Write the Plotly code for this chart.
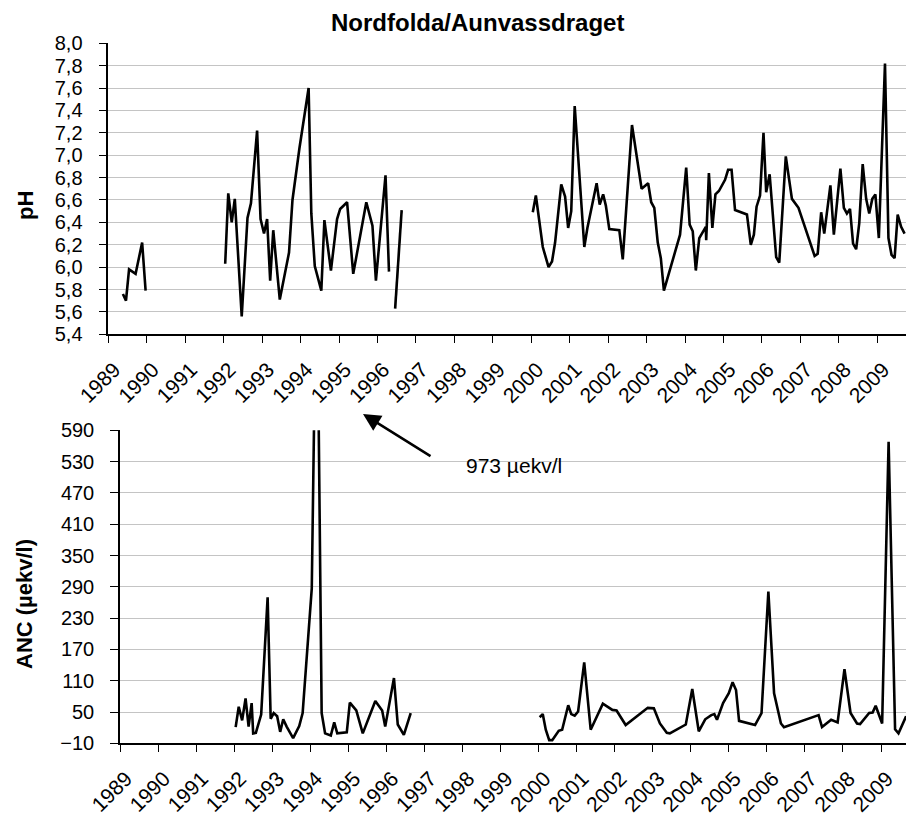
import plotly.graph_objects as go

# ---------------- data ----------------
year_ticks = list(range(1989, 2010))
year_labels = [str(y) for y in year_ticks]

ph_year = [1989.38, 1989.46, 1989.54, 1989.71, 1989.88, 1989.97, None,
           1992.04, 1992.12, 1992.21, 1992.29, 1992.47, 1992.62, 1992.71, 1992.87, 1992.96,
           1993.05, 1993.13, 1993.21, 1993.29, 1993.46, 1993.70, 1993.79, 1993.97,
           1994.21, 1994.28, 1994.37, 1994.54, 1994.62, 1994.79, 1994.95,
           1995.03, 1995.21, 1995.37, 1995.71, 1995.87, 1995.96,
           1996.21, 1996.30, None, 1996.46, 1996.63, None,
           2000.04, 2000.12, 2000.30, 2000.45, 2000.54, 2000.62, 2000.78, 2000.88, 2000.96,
           2001.04, 2001.13, 2001.38, 2001.46, 2001.54, 2001.70, 2001.78, 2001.87, 2001.94,
           2002.03, 2002.29, 2002.38, 2002.62, 2002.87,
           2003.04, 2003.12, 2003.20, 2003.29, 2003.37, 2003.45, 2003.87,
           2004.03, 2004.12, 2004.20, 2004.28, 2004.37, 2004.54, 2004.55, 2004.62, 2004.71,
           2004.79, 2004.88,
           2005.04, 2005.12, 2005.21, 2005.30, 2005.61, 2005.71, 2005.79, 2005.86, 2005.95,
           2006.04, 2006.11, 2006.20, 2006.37, 2006.45, 2006.62, 2006.78, 2006.95,
           2007.37, 2007.45, 2007.54, 2007.62, 2007.78, 2007.87,
           2008.04, 2008.13, 2008.21, 2008.29, 2008.37, 2008.45, 2008.53, 2008.62, 2008.71,
           2008.79, 2008.87, 2008.95,
           2009.04, 2009.20, 2009.29, 2009.37, 2009.45, 2009.53, 2009.62, 2009.71]
ph_value = [5.76, 5.70, 5.98, 5.94, 6.22, 5.79, None,
            6.03, 6.66, 6.40, 6.61, 5.56, 6.44, 6.57, 7.22, 6.43,
            6.30, 6.43, 5.88, 6.33, 5.71, 6.13, 6.60, 7.06,
            7.60, 6.48, 6.01, 5.79, 6.42, 5.97, 6.43,
            6.52, 6.58, 5.94, 6.58, 6.37, 5.88,
            6.82, 5.96, None, 5.63, 6.51, None,
            6.49, 6.64, 6.18, 6.00, 6.05, 6.22, 6.74, 6.63, 6.35,
            6.50, 7.44, 6.18, 6.35, 6.48, 6.75, 6.56, 6.65, 6.55,
            6.34, 6.33, 6.07, 7.27, 6.70,
            6.75, 6.58, 6.53, 6.22, 6.08, 5.79, 6.29,
            6.89, 6.38, 6.32, 5.97, 6.26, 6.36, 6.24, 6.84, 6.35,
            6.65, 6.68,
            6.78, 6.87, 6.87, 6.51, 6.47, 6.20, 6.29, 6.54, 6.64,
            7.20, 6.67, 6.83, 6.09, 6.04, 6.99, 6.61, 6.53,
            6.10, 6.12, 6.49, 6.30, 6.73, 6.29,
            6.88, 6.53, 6.48, 6.52, 6.21, 6.16, 6.39, 6.92, 6.61,
            6.48, 6.61, 6.65,
            6.26, 7.82, 6.26, 6.11, 6.08, 6.47, 6.36, 6.30]

anc_year = [1992.04, 1992.12, 1992.21, 1992.30, 1992.38, 1992.46, 1992.50, 1992.57, 1992.71,
            1992.88, 1992.96, 1993.04, 1993.13, 1993.21, 1993.29, 1993.38, 1993.55, 1993.71,
            1993.80, 1994.04, 1994.17, 1994.30, 1994.39, 1994.54, 1994.63, 1994.71, 1994.96,
            1995.04, 1995.21, 1995.38, 1995.71, 1995.89, 1995.97, 1996.20, 1996.30, 1996.46,
            1996.64, None,
            2000.03, 2000.11, 2000.19, 2000.28, 2000.36, 2000.53, 2000.62, 2000.78, 2000.86,
            2000.95, 2001.04, 2001.20, 2001.37, 2001.69, 2001.94, 2002.05, 2002.29, 2002.87,
            2003.03, 2003.19, 2003.37, 2003.45, 2003.87, 2004.04, 2004.21, 2004.38, 2004.54,
            2004.62, 2004.69, 2004.85, 2005.00, 2005.10, 2005.19, 2005.27, 2005.69, 2005.86,
            2006.04, 2006.19, 2006.37, 2006.45, 2007.36, 2007.45, 2007.69, 2007.86, 2008.04,
            2008.20, 2008.37, 2008.45, 2008.69, 2008.78, 2008.86, 2009.03, 2009.20, 2009.37,
            2009.46, 2009.66]
anc_value = [21, 60, 34, 76, 22, 67, 9, 10, 45,
             270, 37, 48, 42, 12, 36, 22, 0, 23,
             48, 287, 973, 48, 9, 5, 30, 9, 11,
             68, 53, 9, 71, 53, 22, 115, 26, 6,
             48, None,
             40, 46, 16, -4, -4, 14, 16, 63, 46,
             43, 51, 145, 16, 66, 54, 53, 25, 58,
             57, 28, 10, 9, 26, 94, 13, 36, 44,
             46, 35, 67, 86, 107, 92, 33, 25, 48,
             281, 86, 28, 21, 44, 21, 35, 30, 132,
             48, 28, 27, 48, 49, 62, 28, 568, 17,
             9, 42]

chart_title = "Nordfolda/Aunvassdraget"
ph_title = "pH"
anc_title = "ANC (µekv/l)"
peak_note = "973 µekv/l"

# ---------------- figure ----------------
W, H = 906, 816
FONT = "Arial, Liberation Sans, sans-serif"

fig = go.Figure()
fig.add_trace(go.Scatter(x=ph_year, y=ph_value, mode="lines", connectgaps=False,
                         line=dict(color="black", width=2.6), xaxis="x", yaxis="y",
                         showlegend=False))
fig.add_trace(go.Scatter(x=anc_year, y=anc_value, mode="lines", connectgaps=False,
                         line=dict(color="black", width=2.6), xaxis="x2", yaxis="y2",
                         showlegend=False))

def px_x(p):
    return p / W

def px_y(p):
    return 1 - p / H

common_x = dict(tickvals=year_ticks, ticktext=year_labels, tickangle=-45,
                ticks="outside", ticklen=7, tickcolor="black", tickwidth=1.3,
                showline=True, linecolor="black", linewidth=1.5, showgrid=False,
                zeroline=False, automargin=False,
                ticklabelstandoff=6, ticklabelshift=6,
                tickfont=dict(family=FONT, size=21, color="black"))
common_y = dict(ticks="outside", ticklen=8, tickcolor="black", tickwidth=1.3,
                showline=True, linecolor="black", linewidth=1.5,
                showgrid=True, gridcolor="#c4c4c4", gridwidth=1.3,
                zeroline=False, automargin=False, ticklabelstandoff=12,
                tickfont=dict(family=FONT, size=20, color="black"))

fig.update_layout(
    width=W, height=H,
    margin=dict(l=0, r=0, t=0, b=0),
    paper_bgcolor="white", plot_bgcolor="white",
    separators=",.",
    xaxis=dict(domain=[px_x(108.3), 1], range=[1989, 1989 + (W - 108.3) / 38.45],
               anchor="y", **common_x),
    yaxis=dict(domain=[px_y(334.3), px_y(43.3)], range=[5.4, 8.0], dtick=0.2, tick0=5.4,
               tickformat=".1f", anchor="x", **common_y),
    xaxis2=dict(domain=[px_x(120), 1], range=[1989, 1989 + (W - 120) / 38.05],
                anchor="y2", **common_x),
    yaxis2=dict(domain=[px_y(743.3), px_y(430.3)], range=[-10, 590], dtick=60, tick0=-10,
                anchor="x2", **common_y),
)

ann = [
    dict(text="<b>" + chart_title + "</b>", x=px_x(477), y=px_y(22), xref="paper", yref="paper",
         showarrow=False, xanchor="center", yanchor="middle",
         font=dict(family=FONT, size=24, color="black")),
    dict(text="<b>" + ph_title + "</b>", x=px_x(25), y=px_y(206), xref="paper", yref="paper",
         showarrow=False, textangle=-90, xanchor="center", yanchor="middle",
         font=dict(family=FONT, size=22, color="black")),
    dict(text="<b>" + anc_title + "</b>", x=px_x(24), y=px_y(604), xref="paper", yref="paper",
         showarrow=False, textangle=-90, xanchor="center", yanchor="middle",
         font=dict(family=FONT, size=22, color="black")),
    dict(text=peak_note, x=px_x(514), y=px_y(465), xref="paper", yref="paper",
         showarrow=False, xanchor="center", yanchor="middle",
         font=dict(family=FONT, size=21, color="black")),
    dict(text="", x=px_x(363), y=px_y(414), xref="paper", yref="paper",
         showarrow=True, ax=69, ay=43, arrowhead=2, arrowsize=1.4, arrowwidth=2.5,
         arrowcolor="black", standoff=0),
]
fig.update_layout(annotations=ann)

fig.write_html("out.html",
               config={"displayModeBar": False},
               post_script="document.documentElement.style.margin='0';"
                           "document.body.style.margin='0';"
                           "document.body.style.padding='0';"
                           "document.body.style.overflow='hidden';")
